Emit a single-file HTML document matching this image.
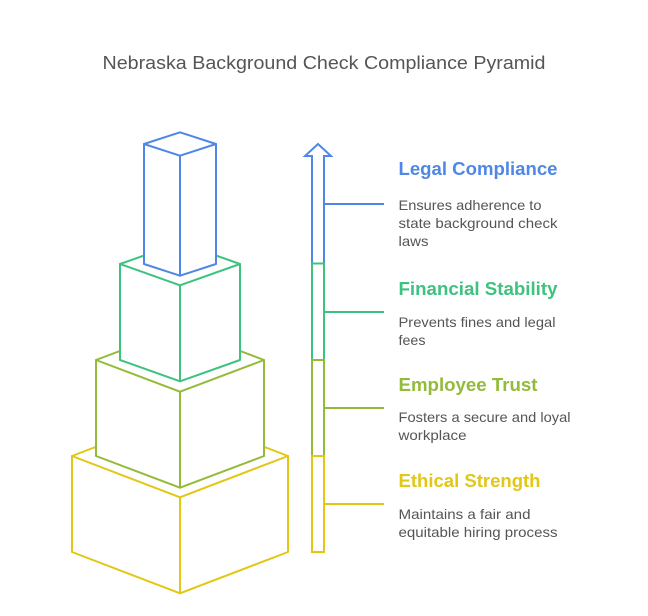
<!DOCTYPE html>
<html>
<head>
<meta charset="utf-8">
<style>
  html, body { margin: 0; padding: 0; background: #ffffff; }
  body { width: 648px; height: 616px; overflow: hidden; }
  svg { display: block; }
  text { font-family: "Liberation Sans", Arial, sans-serif; }
</style>
</head>
<body>
<svg width="648" height="616" viewBox="0 0 648 616" xmlns="http://www.w3.org/2000/svg">
  <rect width="648" height="616" fill="#ffffff"/>

  <!-- Title -->
  <text x="102.5" y="69" font-size="18" fill="#555555" textLength="443" lengthAdjust="spacingAndGlyphs">Nebraska Background Check Compliance Pyramid</text>

  <g fill="#ffffff" stroke-width="2" stroke-linejoin="round" stroke-linecap="round">
    <!-- Yellow box -->
    <g stroke="#e2c715">
      <polygon points="180,414.7 288,456 288,552 180,593.3 72,552 72,456"/>
      <polyline fill="none" points="72,456 180,497.3 288,456"/>
      <line x1="180" y1="497.3" x2="180" y2="593.3"/>
    </g>
    <!-- Olive box -->
    <g stroke="#93bb39">
      <polygon points="180,328.3 264,360 264,456 180,487.7 96,456 96,360"/>
      <polyline fill="none" points="96,360 180,391.7 264,360"/>
      <line x1="180" y1="391.7" x2="180" y2="487.7"/>
    </g>
    <!-- Green box -->
    <g stroke="#3ec27f">
      <polygon points="180,242.7 240,264 240,360 180,381.3 120,360 120,264"/>
      <polyline fill="none" points="120,264 180,285.3 240,264"/>
      <line x1="180" y1="285.3" x2="180" y2="381.3"/>
    </g>
    <!-- Blue box -->
    <g stroke="#4f87e6">
      <polygon points="180,132.3 216,144 216,264 180,275.7 144,264 144,144"/>
      <polyline fill="none" points="144,144 180,155.7 216,144"/>
      <line x1="180" y1="155.7" x2="180" y2="275.7"/>
    </g>
  </g>

  <!-- Arrow -->
  <g fill="#ffffff" stroke-width="2" stroke-linejoin="miter">
    <path d="M312,263.5 V156 H305 L318,144 L331,156 H324 V263.5 Z" stroke="#4f87e6"/>
    <rect x="312" y="263.5" width="12" height="96.5" stroke="#3ec27f"/>
    <rect x="312" y="360" width="12" height="96" stroke="#93bb39"/>
    <rect x="312" y="456" width="12" height="96" stroke="#e2c715"/>
  </g>

  <!-- Connectors -->
  <g stroke-width="2">
    <line x1="324" y1="204" x2="384" y2="204" stroke="#4f87e6"/>
    <line x1="324" y1="312" x2="384" y2="312" stroke="#3ec27f"/>
    <line x1="324" y1="408" x2="384" y2="408" stroke="#93bb39"/>
    <line x1="324" y1="504" x2="384" y2="504" stroke="#e2c715"/>
  </g>

  <!-- Labels -->
  <g font-weight="bold" font-size="18">
    <text x="398.5" y="175" fill="#4f87e6" textLength="159" lengthAdjust="spacingAndGlyphs">Legal Compliance</text>
    <text x="398.5" y="295" fill="#3ec27f" textLength="159" lengthAdjust="spacingAndGlyphs">Financial Stability</text>
    <text x="398.5" y="391" fill="#93bb39" textLength="139" lengthAdjust="spacingAndGlyphs">Employee Trust</text>
    <text x="398.5" y="487" fill="#e2c715" textLength="142" lengthAdjust="spacingAndGlyphs">Ethical Strength</text>
  </g>

  <g font-size="14" fill="#555555">
    <text x="398.5" y="210" textLength="143" lengthAdjust="spacingAndGlyphs">Ensures adherence to</text>
    <text x="398.5" y="228" textLength="159" lengthAdjust="spacingAndGlyphs">state background check</text>
    <text x="398.5" y="246" textLength="30" lengthAdjust="spacingAndGlyphs">laws</text>

    <text x="398.5" y="327" textLength="157" lengthAdjust="spacingAndGlyphs">Prevents fines and legal</text>
    <text x="398.5" y="345" textLength="27" lengthAdjust="spacingAndGlyphs">fees</text>

    <text x="398.5" y="422" textLength="172" lengthAdjust="spacingAndGlyphs">Fosters a secure and loyal</text>
    <text x="398.5" y="440" textLength="68" lengthAdjust="spacingAndGlyphs">workplace</text>

    <text x="398.5" y="519" textLength="132" lengthAdjust="spacingAndGlyphs">Maintains a fair and</text>
    <text x="398.5" y="537" textLength="159" lengthAdjust="spacingAndGlyphs">equitable hiring process</text>
  </g>
</svg>
</body>
</html>
